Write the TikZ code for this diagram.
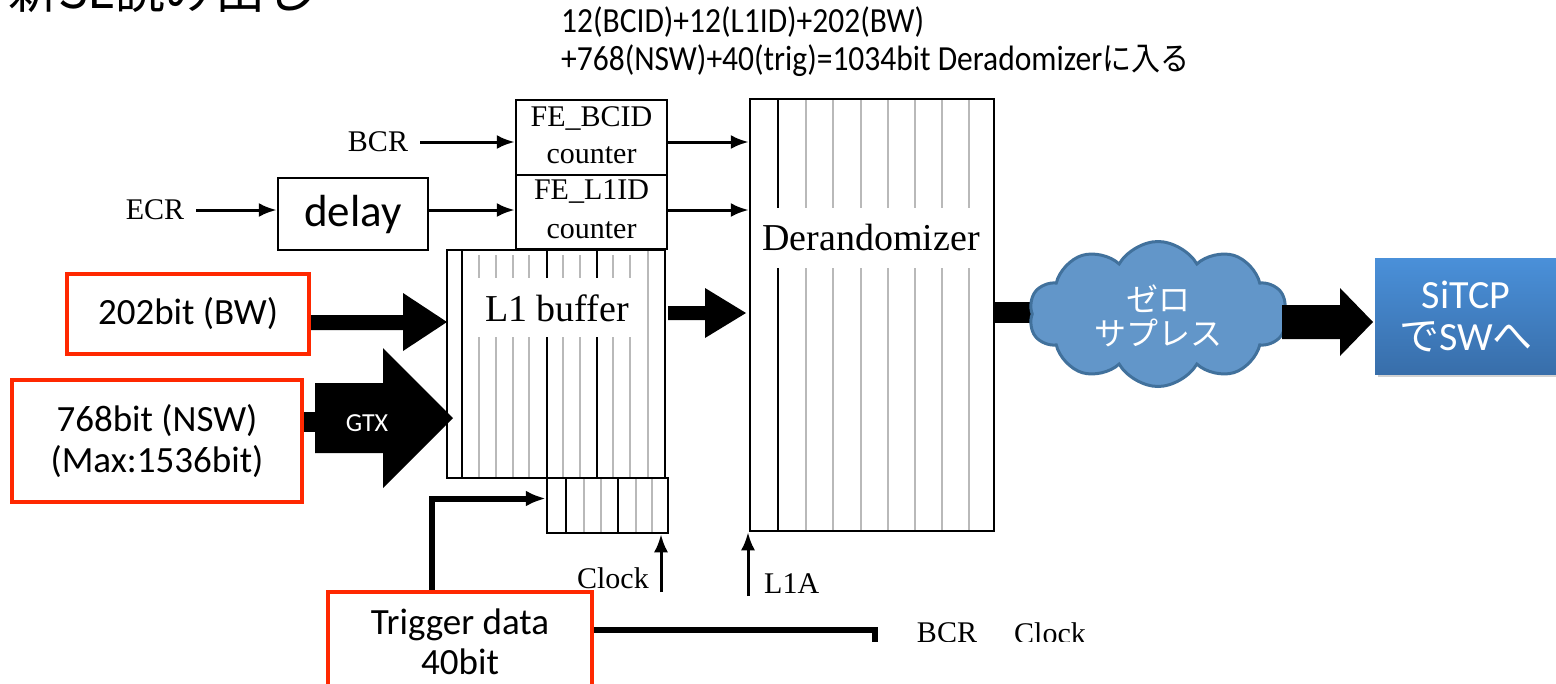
\documentclass[tikz,border=0pt]{standalone}
\usepackage{fontspec}
\setmainfont{Liberation Serif}
\newfontfamily\calfont{Carlito}
\newfontfamily\jpfont{Noto Sans CJK JP}
\usetikzlibrary{arrows.meta,shapes.symbols,shadows,calc}
\definecolor{redbox}{RGB}{255,40,0}
\definecolor{cloudfill}{RGB}{98,150,201}
\definecolor{cloudline}{RGB}{65,113,156}
\definecolor{sitcptop}{RGB}{74,144,217}
\definecolor{sitcpbot}{RGB}{56,110,170}
\newcommand{\fs}[1]{\fontsize{#1}{#1}\selectfont}
\begin{document}
\begin{tikzpicture}[x=1pt,y=-1pt,
  blk/.style={draw=black,line width=2.5,fill=white,inner sep=0,align=center},
  scan/.style={font=\fs{30},inner sep=0,align=center},
  bigscan/.style={font=\fs{38},inner sep=0,fill=white},
  thinarrow/.style={line width=3,-{Latex[length=18,width=14]}},
  thickline/.style={line width=6},
  gline/.style={gray!55,line width=2.5},
  dline/.style={black,line width=2},
  block/.style={fill=black},
  redframe/.style={draw=redbox,line width=4,fill=white,inner sep=0,align=center,font=\calfont\fs{37}},
  ovtext/.style={font=\calfont\fs{31.5},inner sep=0,anchor=base west}]
\useasboundingbox (0,0) rectangle (1556,683);
\fill[white] (0,0) rectangle (1556,683);

% title (cut at top)
\node[anchor=base west,inner sep=0,font=\jpfont\fs{50}] (title) at (8,8) {新SL読み出し};

% top annotation
\node[ovtext] (sum1) at (561,32) {\scalebox{1}[1.12]{12(BCID)+12(L1ID)+202(BW)}};
\node[ovtext] (sum2) at (561,70) {\scalebox{1}[1.12]{+768(NSW)+40(trig)=1034bit Deradomizer{\jpfont\fs{29}に入る}}};

\begin{scope}
\clip (0,0) rectangle (1556,641);
% counters
\node[blk,minimum width=151,minimum height=75] (bcid) at (591.5,137.5) {};
\node[scan] at (591.5,118) {FE\_BCID};
\node[scan] at (591.5,155) {counter};
\node[blk,minimum width=151,minimum height=74] (l1id) at (591.5,212) {};
\node[scan] at (591.5,192) {FE\_L1ID};
\node[scan] at (591.5,230) {counter};
% delay
\node[blk,minimum width=150,minimum height=72,font=\calfont\fs{45}] (delay) at (353,214) {delay};
\node[scan] (bcr) at (378,142) {BCR};
\node[scan] (ecr) at (155,210) {ECR};
\draw[thinarrow] ($(bcr.east)+(12,0)$) -- (bcr.east -| bcid.west);
\draw[thinarrow] ($(ecr.east)+(12,0)$) -- (ecr.east -| delay.west);
\draw[thinarrow] (ecr.east -| delay.east) -- (ecr.east -| l1id.west);

% L1 buffer
\node[blk,minimum width=218,minimum height=228] (l1b) at (556,364) {};
\draw[dline] (462,250) -- (462,478);
\foreach \x in {479,496,513,529,563,580,613,630} {
  \draw[gline] (\x,255) -- (\x,278) (\x,337) -- (\x,477);
}
\foreach \x in {547,597} {
  \draw[dline] (\x,250) -- (\x,278) (\x,337) -- (\x,478);
}
\draw[gline] (648,251) -- (648,477);
\node[bigscan,fill=none] (l1bt) at (557,308) {L1 buffer};

% register below L1 buffer
\node[blk,minimum width=121,minimum height=55] (reg) at (607.5,505.5) {};
\foreach \x in {566,618} {\draw[dline] (\x,478) -- (\x,533);}
\foreach \x in {584,601,636,652} {\draw[gline] (\x,479) -- (\x,532);}

% derandomizer
\node[blk,minimum width=244,minimum height=432] (der) at (872,315) {};
\draw[dline] (778,99) -- (778,208) (778,268) -- (778,531);
\foreach \x in {806,833,861,888,915,942,969} {
  \draw[gline] (\x,100) -- (\x,208) (\x,268) -- (\x,530);
}
\node[bigscan,fill=none] (dert) at (871,237) {Derandomizer};

\draw[thinarrow] (bcid.east |- bcr.east) -- (bcr.east -| der.west);
\draw[thinarrow] (l1id.east |- ecr.east) -- (ecr.east -| der.west);

% thick arrows of the scan
\fill[block] (310,315) -- (403,315) -- (403,293) -- (447,322) -- (403,351) -- (403,330) -- (310,330) -- cycle;
\fill[block] (668,306) -- (705,306) -- (705,288) -- (746,313) -- (705,338) -- (705,320) -- (668,320) -- cycle;
\fill[block] (der.east |- 0,302) rectangle (1060,323);

% clock and L1A
\coordinate (clk) at (661,592);
\coordinate (l1a) at (748,596);
\draw[thinarrow] (clk) -- (clk |- reg.south);
\draw[thinarrow] (l1a) -- (l1a |- der.south);
\node[scan,anchor=east] (clkt) at (649,578) {Clock};
\node[scan,anchor=west] (l1at) at (764,584) {L1A};

% trigger path
\coordinate (tl) at (432,600);
\draw[thickline,-{Latex[length=20,width=16]}] (tl) |- ($(reg.west)+(0,-7)$);
\coordinate (bend) at (875,630);
\draw[thickline] (560,630) -- (bend) -- ++(0,15);
\node[scan] (bcr2) at (947,633) {BCR};
\node[scan] (clk2) at (1050,633) {Clock};
\end{scope}

% GTX arrow
\fill[block] (300,412) rectangle (316,432);
\fill[block] (315,383) -- (383,383) -- (383,348) -- (453,418) -- (383,488) -- (383,453) -- (315,453) -- cycle;
\node[font=\calfont\fs{26},text=white,inner sep=0] (gtx) at (367,423) {GTX};

% red boxes
\node[redframe,minimum width=242,minimum height=80] (bw) at (188,314) {202bit (BW)};
\node[redframe,minimum width=290,minimum height=122] (nsw) at (157,441) {768bit (NSW)\\[4pt](Max:1536bit)};
\node[redframe,minimum width=264,minimum height=100] (trg) at (460,642) {Trigger data\\[3pt]40bit};

% cloud + SiTCP
\node[cloud,cloud puffs=10,cloud puff arc=120,aspect=1.8,draw=cloudline,line width=3,fill=cloudfill,
  minimum width=258,minimum height=145,inner sep=0] (zs) at (1158,314) {};
\node[font=\jpfont\fs{32},text=white,align=center,inner sep=0] (zst) at (1158,316) {ゼロ\\[2pt]サプレス};
\fill[block] (1282,305) -- (1340,305) -- (1340,288) -- (1373,322) -- (1340,356) -- (1340,339) -- (1282,339) -- cycle;
\node[minimum width=182,minimum height=116,inner sep=0,top color=sitcptop,bottom color=sitcpbot,
  drop shadow={shadow xshift=3pt,shadow yshift=-3pt,opacity=0.35},
  text=white,align=center,font=\calfont\fs{40}] (sitcp) at (1466,316) {SiTCP\\[2pt]{\jpfont\fs{40}で}SW{\jpfont\fs{40}へ}};
\end{tikzpicture}
\end{document}
